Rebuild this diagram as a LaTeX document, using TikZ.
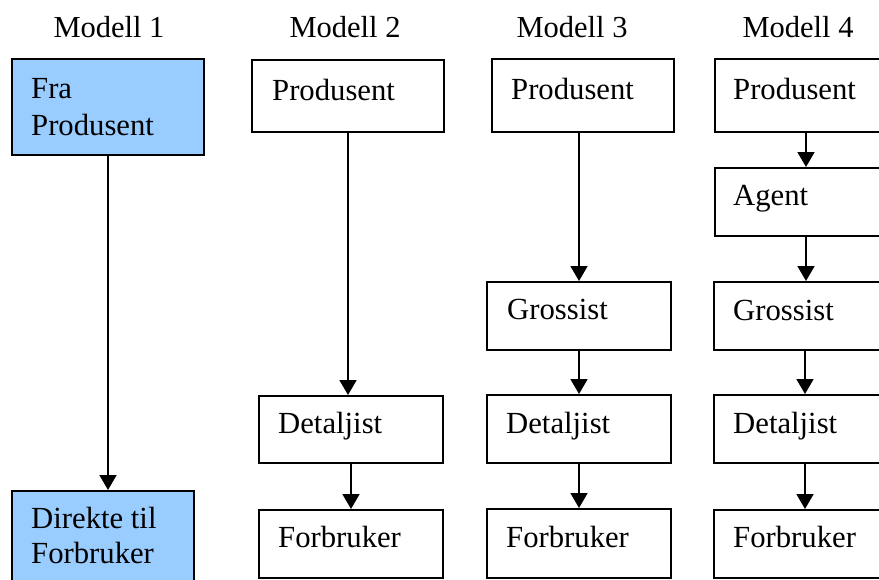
\documentclass[tikz,border=0pt]{standalone}
\usepackage{fontspec}
\setmainfont{Liberation Serif}
\usetikzlibrary{arrows.meta}
\definecolor{boxblue}{HTML}{99CCFF}
\tikzset{
 box/.style={draw=black, line width=2pt, rectangle, inner sep=0pt, anchor=north west},
 txt/.style={anchor=base west, inner sep=0pt, font=\fontsize{30.7}{37}\selectfont},
 ttl/.style={anchor=base, inner sep=0pt, font=\fontsize{30.5}{37}\selectfont},
 arr/.style={line width=1.7pt, -{Triangle[width=17pt,length=15pt]}},
}
\begin{document}
\begin{tikzpicture}[x=1pt,y=-1pt]
\useasboundingbox (0,0) rectangle (879,579);
\clip (0,0) rectangle (879,579);
% titles
\node[ttl] (m1) at (109,37) {Modell 1};
\node[ttl] (m2) at (345,37) {Modell 2};
\node[ttl] (m3) at (572,37) {Modell 3};
\node[ttl] (m4) at (798,37) {Modell 4};
% Modell 1
\node[box, fill=boxblue, minimum width=192pt, minimum height=96pt] (p1) at (11,58) {};
\node[box, fill=boxblue, minimum width=182pt, minimum height=100pt] (d1) at (11,490) {};
\node[txt] (t1a) at (31,98) {Fra};
\node[txt] (t1b) at (31,135) {Produsent};
\node[txt] (t1c) at (31,528) {Direkte til};
\node[txt] (t1d) at (31,563) {Forbruker};
% Modell 2
\node[box, minimum width=192pt, minimum height=72pt] (p2) at (251,59) {};
\node[box, minimum width=184pt, minimum height=67pt] (dt2) at (258,395) {};
\node[box, minimum width=184pt, minimum height=68pt] (f2) at (258,509) {};
\node[txt] (t2a) at (272,100) {Produsent};
\node[txt] (t2b) at (278,433) {Detaljist};
\node[txt] (t2c) at (278,547) {Forbruker};
% Modell 3
\node[box, minimum width=182pt, minimum height=73pt] (p3) at (491,58) {};
\node[box, minimum width=184pt, minimum height=68pt] (g3) at (486,281) {};
\node[box, minimum width=184pt, minimum height=68pt] (dt3) at (486,394) {};
\node[box, minimum width=184pt, minimum height=69pt] (f3) at (486,508) {};
\node[txt] (t3a) at (511,99) {Produsent};
\node[txt] (t3b) at (507,319) {Grossist};
\node[txt] (t3c) at (506,433) {Detaljist};
\node[txt] (t3d) at (506,547) {Forbruker};
% Modell 4
\node[box, minimum width=182pt, minimum height=73pt] (p4) at (714,58) {};
\node[box, minimum width=182pt, minimum height=68pt] (a4) at (714,167) {};
\node[box, minimum width=182pt, minimum height=68pt] (g4) at (713,281) {};
\node[box, minimum width=182pt, minimum height=68pt] (dt4) at (713,394) {};
\node[box, minimum width=182pt, minimum height=68pt] (f4) at (713,509) {};
\node[txt] (t4a) at (733,99) {Produsent};
\node[txt] (t4b) at (733,205) {Agent};
\node[txt] (t4c) at (733,320) {Grossist};
\node[txt] (t4d) at (733,433) {Detaljist};
\node[txt] (t4e) at (733,547) {Forbruker};
% arrows
\draw[arr] (p1.south) -- (p1.south |- d1.north);
\draw[arr] (p2.south) -- (p2.south |- dt2.north);
\draw[arr] (dt2.south) -- (f2.north);
\draw[arr] (p3.south -| g3.north) -- (g3.north);
\draw[arr] (g3.south) -- (dt3.north);
\draw[arr] (dt3.south) -- (f3.north);
\draw[arr] (p4.south) -- (a4.north);
\draw[arr] (a4.south) -- (a4.south |- g4.north);
\draw[arr] (g4.south) -- (dt4.north);
\draw[arr] (dt4.south) -- (f4.north);
\end{tikzpicture}
\end{document}
